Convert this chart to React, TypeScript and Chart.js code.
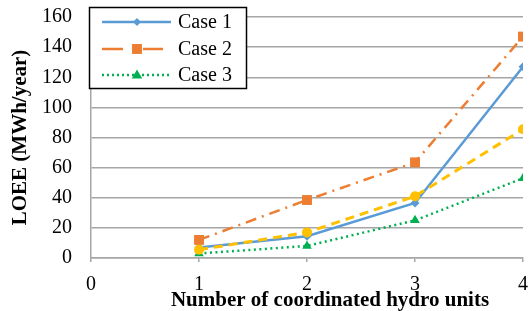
import React, { useEffect, useRef } from "react";
import { Chart, registerables } from "chart.js";

Chart.register(...registerables);

const unitCounts = [1, 2, 3, 4];
const case1 = [7, 14.5, 36.5, 127];
const case2 = [12, 38.5, 63.5, 147];
const case3 = [3, 8, 25, 53];
const case4 = [5.5, 17, 41, 85.5];
const legendLabels = ["Case 1", "Case 2", "Case 3"];
const xTitle = "Number of coordinated hydro units";
const yTitle = "LOEE (MWh/year)";

const BLUE = "#5B9BD5";
const ORANGE = "#ED7D31";
const GREEN = "#00B050";
const YELLOW = "#FFC000";
const FONT = "'Liberation Serif', 'Times New Roman', serif";

const toPoints = (ys: number[]) => unitCounts.map((x, i) => ({ x, y: ys[i] }));

function drawPoint(ctx: CanvasRenderingContext2D, style: string, r: number, x: number, y: number) {
  ctx.beginPath();
  if (style === "rectRot") {
    ctx.moveTo(x, y - r);
    ctx.lineTo(x + r, y);
    ctx.lineTo(x, y + r);
    ctx.lineTo(x - r, y);
  } else if (style === "rect") {
    const s = r * Math.SQRT1_2;
    ctx.rect(x - s, y - s, 2 * s, 2 * s);
  } else if (style === "triangle") {
    ctx.moveTo(x, y - r);
    ctx.lineTo(x + r * 0.95, y + r * 0.65);
    ctx.lineTo(x - r * 0.95, y + r * 0.65);
  } else {
    ctx.arc(x, y, r, 0, Math.PI * 2);
  }
  ctx.closePath();
  ctx.fill();
}

const customPlugin = {
  id: "customDecor",
  afterDraw(chart: any) {
    const ctx = chart.ctx as CanvasRenderingContext2D;
    const area = chart.chartArea;
    ctx.save();
    ctx.fillStyle = "#000";
    ctx.font = `bold 21px ${FONT}`;
    ctx.textAlign = "center";
    ctx.textBaseline = "middle";
    ctx.fillText(xTitle, 330, 301);
    ctx.save();
    ctx.translate(21, (area.top + area.bottom) / 2);
    ctx.rotate(-Math.PI / 2);
    ctx.fillText(yTitle, 0, 0);
    ctx.restore();

    // legend
    const bx = 89.5, by = 7.5, bw = 157, bh = 81;
    ctx.fillStyle = "#fff";
    ctx.fillRect(bx, by, bw, bh);
    ctx.strokeStyle = "#000";
    ctx.lineWidth = 1.5;
    ctx.strokeRect(bx, by, bw, bh);
    const rows = [22, 49, 75];
    const styles = [
      { color: BLUE, dash: [] as number[], width: 2.5, pointStyle: "rectRot", r: 4, end: 171 },
      { color: ORANGE, dash: [21, 20], width: 2.5, pointStyle: "rect", r: 7, end: 163 },
      { color: GREEN, dash: [2, 3], width: 2.5, pointStyle: "triangle", r: 5.5, end: 171 },
    ];
    rows.forEach((ry, i) => {
      const s = styles[i];
      ctx.save();
      ctx.strokeStyle = s.color;
      ctx.lineWidth = s.width;
      ctx.setLineDash(s.dash);
      ctx.beginPath();
      ctx.moveTo(102, ry);
      ctx.lineTo(s.end, ry);
      ctx.stroke();
      ctx.setLineDash([]);
      ctx.fillStyle = s.color;
      drawPoint(ctx, s.pointStyle, s.r, 137, ry);
      ctx.restore();
      ctx.fillStyle = "#000";
      ctx.font = `20px ${FONT}`;
      ctx.textAlign = "left";
      ctx.textBaseline = "middle";
      ctx.fillText(legendLabels[i], 178, ry + 1);
    });
    ctx.restore();
  },
};

export default function App() {
  const canvasRef = useRef<HTMLCanvasElement | null>(null);

  useEffect(() => {
    if (!canvasRef.current) return;
    const chart = new Chart(canvasRef.current, {
      type: "line",
      data: {
        datasets: [
          {
            label: "Case 4",
            data: toPoints(case4),
            borderColor: YELLOW,
            backgroundColor: YELLOW,
            borderWidth: 3,
            borderDash: [9, 6],
            pointStyle: "circle",
            pointRadius: 5,
            pointBorderWidth: 0,
            tension: 0,
          },
          {
            label: "Case 3",
            data: toPoints(case3),
            borderColor: GREEN,
            backgroundColor: GREEN,
            borderWidth: 2.5,
            borderDash: [2, 3.5],
            pointStyle: "triangle",
            pointRadius: 5.5,
            pointBorderWidth: 0,
            tension: 0,
          },
          {
            label: "Case 2",
            data: toPoints(case2),
            borderColor: ORANGE,
            backgroundColor: ORANGE,
            borderWidth: 2.5,
            borderDash: [11, 6, 2, 6],
            pointStyle: "rect",
            pointRadius: 7,
            pointBorderWidth: 0,
            tension: 0,
          },
          {
            label: "Case 1",
            data: toPoints(case1),
            borderColor: BLUE,
            backgroundColor: BLUE,
            borderWidth: 2.5,
            pointStyle: "rectRot",
            pointRadius: 4.5,
            pointBorderWidth: 0,
            tension: 0,
          },
        ],
      },
      options: {
        animation: false,
        responsive: false,
        maintainAspectRatio: false,
        layout: { padding: { top: 17, right: 5, left: 0, bottom: 0 } },
        plugins: {
          legend: { display: false },
          tooltip: { enabled: false },
        },
        scales: {
          x: {
            type: "linear",
            min: 0,
            max: 4,
            ticks: {
              stepSize: 1,
              color: "#000",
              font: { family: FONT, size: 20 },
              padding: 11,
            },
            grid: {
              display: true,
              drawOnChartArea: false,
              drawTicks: true,
              tickLength: 4,
              color: "#A6A6A6",
              lineWidth: 1.5,
            },
            border: { display: true, color: "#A6A6A6", width: 1.5 },
            afterFit(scale: any) {
              scale.height = 53;
              scale.paddingLeft = 0;
              scale.paddingRight = 0;
            },
          },
          y: {
            min: 0,
            max: 160,
            ticks: {
              stepSize: 20,
              color: "#000",
              font: { family: FONT, size: 20 },
              padding: 19,
            },
            grid: {
              color: "#A6A6A6",
              lineWidth: 1.5,
              drawTicks: false,
            },
            border: { display: true, color: "#A6A6A6", width: 1.5 },
            afterFit(scale: any) {
              scale.width = 91;
              scale.paddingTop = 0;
              scale.paddingBottom = 0;
            },
          },
        },
      },
      plugins: [customPlugin],
    });
    return () => chart.destroy();
  }, []);

  return (
    <div style={{ position: "fixed", left: 0, top: 0, width: 530, height: 311, background: "#fff" }}>
      <canvas ref={canvasRef} width={530} height={311} style={{ width: 530, height: 311 }} />
    </div>
  );
}
